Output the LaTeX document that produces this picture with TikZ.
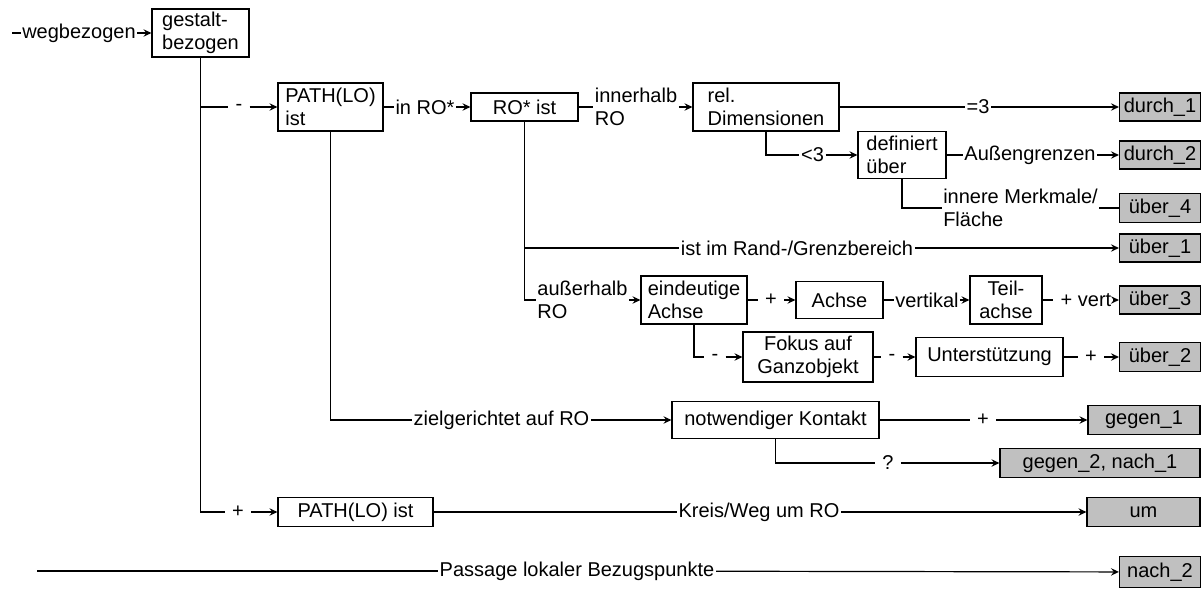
\documentclass[tikz,border=0pt]{standalone}
\usepackage{fontspec}
\setmainfont{Liberation Sans}
\usetikzlibrary{arrows.meta}
\definecolor{boxgray}{RGB}{192,192,192}
\begin{document}
\begin{tikzpicture}[x=1pt,y=-1pt,font=\fontsize{20}{22.5}\selectfont,
  wbox/.style={draw, line width=1.2pt, inner sep=2pt, align=left},
  gbox/.style={draw, line width=1.2pt, fill=boxgray, inner sep=2pt, minimum width=81pt, minimum height=29pt},
  lab/.style={inner xsep=1.5pt, inner ysep=1pt, align=left},
  sym/.style={inner xsep=7pt, inner ysep=1pt},
  conn/.style={line width=1.2pt},
  arr/.style={conn, -{Stealth[length=8pt,width=7.5pt,inset=3pt]}}]
\useasboundingbox (0,0) rectangle (1202,591);

% white boxes
\node[wbox, minimum width=97pt, minimum height=48pt] (gest) at (200.5,33) {gestalt-\\bezogen};
\node[wbox, minimum width=105pt, minimum height=48pt] (P1) at (330.5,107) {PATH(LO)\\ist};
\node[wbox, minimum width=107pt, minimum height=28pt] (ROstar) at (524.5,107) {RO* ist};
\node[wbox, minimum width=146pt, minimum height=48pt] (rel) at (766,107) {rel.\\Dimensionen};
\node[wbox, minimum width=88pt, minimum height=47pt] (def) at (902,155) {definiert\\über};
\node[wbox, minimum width=106pt, minimum height=48pt] (eind) at (694,300) {eindeutige\\Achse};
\node[wbox, minimum width=87pt, minimum height=37pt] (achse) at (839.5,300) {Achse};
\node[wbox, align=center, minimum width=72pt, minimum height=48pt] (teil) at (1006,300) {Teil-\\achse};
\node[wbox, align=center, minimum width=130pt, minimum height=50pt] (fokus) at (808,357) {Fokus auf\\Ganzobjekt};
\node[wbox, minimum width=147pt, minimum height=39pt] (unter) at (989.5,357) {Unterstützung};
\node[wbox, minimum width=207pt, minimum height=37pt] (notw) at (775.5,420) {notwendiger Kontakt};
\node[wbox, minimum width=155pt, minimum height=29pt] (P2) at (355.5,512) {PATH(LO) ist};

% gray boxes
\node[gbox, minimum height=28pt] (d1) at (1160,107) {durch\_1};
\node[gbox, minimum height=28pt] (d2) at (1160,155) {durch\_2};
\node[gbox] (u4) at (1160,208) {über\_4};
\node[gbox, minimum height=28pt] (u1) at (1160,248) {über\_1};
\node[gbox, minimum height=28pt] (u3) at (1160,300) {über\_3};
\node[gbox] (u2) at (1160,357) {über\_2};
\node[gbox, minimum width=112pt] (g1) at (1144,420) {gegen\_1};
\node[gbox, minimum width=200pt] (g2) at (1100,463) {gegen\_2, nach\_1};
\node[gbox, minimum width=113pt] (um) at (1143.5,512) {um};
\node[gbox, minimum height=31pt] (n2) at (1160,572) {nach\_2};

% labels
\node[lab] (lweg) at (79,33) {wegbezogen};
\node[sym] (lmin1) at (239,107) {-};
\node[sym] (lplus1) at (238,512) {+};
\node[lab] (linro) at (425,107) {in RO*};
\node[lab] (linner) at (636,107) {innerhalb\\RO};
\node[lab] (leq3) at (978,107) {=3};
\node[lab] (llt3) at (812.5,155) {<3};
\node[lab] (laussen) at (1030,155) {Außengrenzen};
\node[lab] (linnere) at (1020.5,208) {innere Merkmale/\\Fläche};
\node[lab] (lrand) at (797,248) {ist im Rand-/Grenzbereich};
\node[lab] (laus) at (582.5,300) {außerhalb\\RO};
\node[sym] (lp2) at (771,300) {+};
\node[lab] (lvert) at (927,300) {vertikal};
\node[lab, inner xsep=1.5pt] (lpv) at (1086,300) {+ vert};
\node[sym] (lm2) at (715,357) {-};
\node[sym] (lm3) at (892,357) {-};
\node[sym] (lp3) at (1091,357) {+};
\node[lab] (lziel) at (501.5,420) {zielgerichtet auf RO};
\node[sym] (lp4) at (983,420) {+};
\node[sym] (lq) at (888,463) {?};
\node[lab] (lkreis) at (759,512) {Kreis/Weg um RO};
\node[lab] (lpass) at (577,571) {Passage lokaler Bezugspunkte};

\coordinate (w0) at (12,33);
\coordinate (p0) at (37,571);

% connectors
\draw[conn] (w0) -- (lweg);
\draw[arr] (lweg) -- (gest);
\draw[conn] (gest.south) |- (lplus1.west);
\draw[arr] (lplus1) -- (P2);
\draw[conn] (gest.south |- lmin1) -- (lmin1);
\draw[arr] (lmin1) -- (P1);
\draw[conn] (P1) -- (linro);
\draw[arr] (linro) -- (ROstar);
\draw[conn] (ROstar) -- (linner);
\draw[arr] (linner) -- (rel);
\draw[conn] (rel) -- (leq3);
\draw[arr] (leq3) -- (d1);
\draw[conn] (rel.south) |- (llt3.west);
\draw[arr] (llt3) -- (def);
\draw[conn] (def) -- (laussen);
\draw[arr] (laussen) -- (d2);
\draw[conn] (def.south) |- (linnere.west);
\draw[conn] (linnere) -- (u4);
\draw[conn] (ROstar.south) |- (laus.west);
\draw[conn] (ROstar.south |- lrand) -- (lrand);
\draw[arr] (lrand) -- (u1);
\draw[arr] (laus) -- (eind);
\draw[conn] (eind) -- (lp2);
\draw[arr] (lp2) -- (achse);
\draw[conn] (achse) -- (lvert);
\draw[arr] (lvert) -- (teil);
\draw[conn] (teil) -- ([xshift=-6pt]lpv.west);
\draw[arr] (lpv) -- (u3);
\draw[conn] (eind.south) |- (lm2.west);
\draw[arr] (lm2) -- (fokus);
\draw[conn] (fokus) -- (lm3);
\draw[arr] (lm3) -- (unter);
\draw[conn] (unter) -- (lp3);
\draw[arr] (lp3) -- (u2);
\draw[conn] (P1.south) |- (lziel.west);
\draw[arr] (lziel) -- (notw);
\draw[conn] (notw) -- (lp4);
\draw[arr] (lp4) -- (g1);
\draw[conn] (notw.south) |- (lq.west);
\draw[arr] (lq) -- (g2);
\draw[conn] (P2) -- (lkreis);
\draw[arr] (lkreis) -- (um);
\draw[conn] (p0) -- (lpass);
\draw[arr] (lpass) -- (n2);
\end{tikzpicture}
\end{document}
